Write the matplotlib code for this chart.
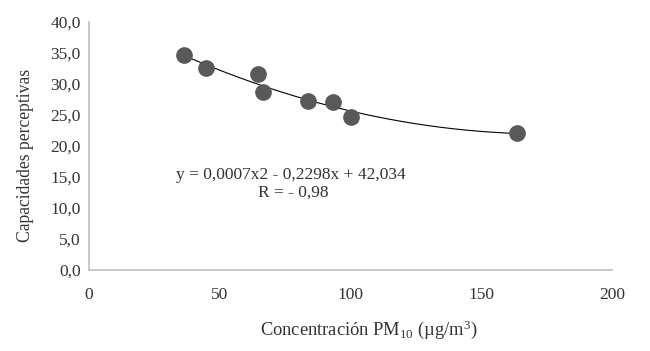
import numpy as np
import matplotlib
matplotlib.use("Agg")
import matplotlib.pyplot as plt

# PM10 concentration vs perceptual capacities
pm10 = [36.3, 44.7, 64.6, 66.5, 83.7, 93.3, 100.2, 163.7]
capacidades = [34.7, 32.6, 31.6, 28.7, 27.3, 27.1, 24.7, 22.1]
x_ticks = [0, 50, 100, 150, 200]
y_ticks = [0, 5, 10, 15, 20, 25, 30, 35, 40]

plt.rcParams['font.family'] = ['Liberation Serif', 'DejaVu Serif']
plt.rcParams['mathtext.default'] = 'regular'

fig = plt.figure(figsize=(6.5, 3.51), dpi=100)
ax = fig.add_axes([0.137, 0.231, 0.805, 0.706])

# second order trend line
coef = np.polyfit(pm10, capacidades, 2)
xs = np.linspace(min(pm10), max(pm10), 200)
ax.plot(xs, np.polyval(coef, xs), color='black', lw=0.8, zorder=2)
ax.plot(pm10, capacidades, 'o', color='#595959', markersize=11, zorder=3)

ax.set_xlim(0, 200)
ax.set_ylim(0, 40)
ax.set_xticks(x_ticks)
ax.set_yticks(y_ticks)
ax.set_yticklabels([f"{v:.1f}".replace('.', ',') for v in y_ticks])
ax.tick_params(length=0, labelsize=12.5, colors='#333333', pad=6)
ax.tick_params(axis='x', pad=12)

for s in ['top', 'right']:
    ax.spines[s].set_visible(False)
for s in ['left', 'bottom']:
    ax.spines[s].set_color('#BFBFBF')
    ax.spines[s].set_linewidth(1.2)

ax.text(77, 15.3, "y = 0,0007x2 - 0,2298x + 42,034", ha='center', va='center',
        fontsize=12.5, color='#333333')
ax.text(78, 12.4, "R = - 0,98", ha='center', va='center',
        fontsize=12.5, color='#333333')

ax.set_ylabel("Capacidades perceptivas", fontsize=12.7, color='#333333')
ax.yaxis.set_label_coords(-0.105, 0.46)
ax.set_xlabel("Concentración PM$_{10}$ (µg/m$^{3}$)", fontsize=13.3, color='#333333')
ax.xaxis.set_label_coords(0.535, -0.195)

fig.savefig("out.png", dpi=100)
